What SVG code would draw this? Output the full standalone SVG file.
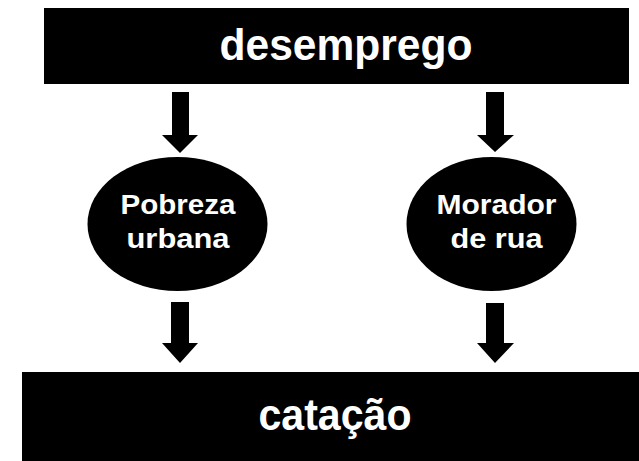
<svg xmlns="http://www.w3.org/2000/svg" width="639" height="461" viewBox="0 0 639 461">
<style>
.box{fill:#000}
.t{font-family:"Liberation Sans",Arial,sans-serif;font-weight:bold;fill:#fff;text-anchor:middle}
.big{font-size:44px}
.sm{font-size:27px}
.arr{fill:#000}
</style>
<rect width="639" height="461" fill="#fff"/>
<g id="desemprego">
<rect class="box" x="44" y="8" width="585" height="76"/>
<text class="t big" x="346" y="60" textLength="253" lengthAdjust="spacingAndGlyphs">desemprego</text>
</g>
<g id="pobreza">
<ellipse class="box" cx="177.5" cy="224" rx="90" ry="67"/>
<text class="t sm" x="178" y="214" textLength="115" lengthAdjust="spacingAndGlyphs">Pobreza</text>
<text class="t sm" x="178" y="248" textLength="103" lengthAdjust="spacingAndGlyphs">urbana</text>
</g>
<g id="morador">
<ellipse class="box" cx="491.5" cy="224" rx="85" ry="67"/>
<text class="t sm" x="496.5" y="214" textLength="120" lengthAdjust="spacingAndGlyphs">Morador</text>
<text class="t sm" x="496.5" y="248" textLength="92" lengthAdjust="spacingAndGlyphs">de rua</text>
</g>
<g id="catacao">
<rect class="box" x="22" y="372" width="617" height="89"/>
<text class="t big" x="335" y="430" textLength="153" lengthAdjust="spacingAndGlyphs">catação</text>
</g>
<g id="connectors">
<polygon class="arr" points="172,92 189,92 189,135 198,135 180,153 162,135 172,135"/>
<polygon class="arr" points="486,92 504,92 504,135 514,135 495,152 477,135 486,135"/>
<polygon class="arr" points="171,302 189,302 189,343 198,343 180,363 162,343 171,343"/>
<polygon class="arr" points="486,303 504,303 504,343 514,343 495,363 477,343 486,343"/>
</g>
</svg>
